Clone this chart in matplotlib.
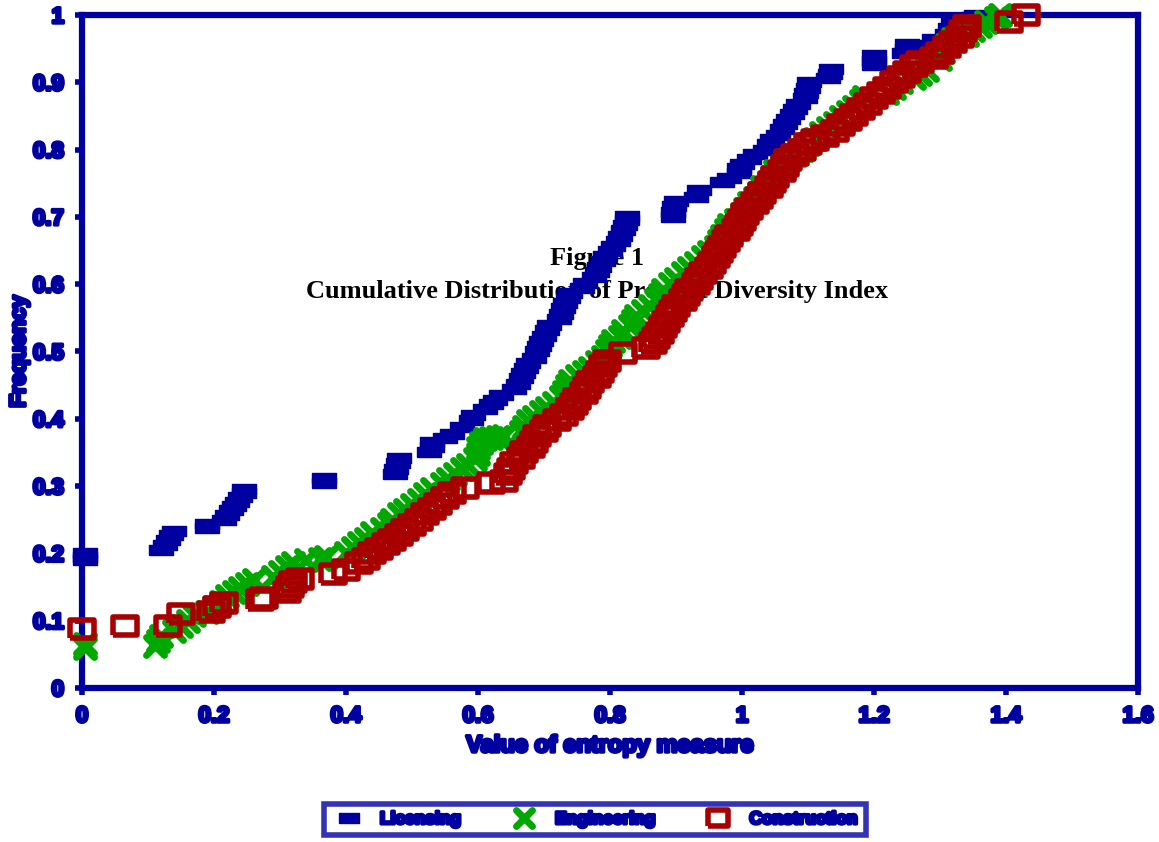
import matplotlib.pyplot as plt
import matplotlib.patheffects as pe
from matplotlib import font_manager
from matplotlib.markers import MarkerStyle
from matplotlib.ticker import FuncFormatter, MultipleLocator

# Licensing
lic_x = [0.005, 0.005, 0.005,
         0.12, 0.125, 0.13, 0.135, 0.14,
         0.19, 0.19,
         0.215, 0.22, 0.225, 0.23, 0.235, 0.24, 0.245, 0.245,
         0.366, 0.366,
         0.474, 0.476, 0.478, 0.48,
         0.525, 0.53, 0.53,
         0.55, 0.56, 0.575,
         0.59, 0.592,
         0.61, 0.62, 0.625, 0.635,
         0.655, 0.66, 0.665, 0.668, 0.672, 0.675,
         0.685, 0.69, 0.692, 0.695, 0.7, 0.705, 0.708,
         0.722, 0.725, 0.728, 0.732, 0.736, 0.74,
         0.758, 0.762,
         0.775, 0.78, 0.783, 0.79, 0.793,
         0.8, 0.805, 0.812, 0.815, 0.82, 0.822, 0.825, 0.826,
         0.895, 0.895, 0.897, 0.9,
         0.93, 0.935,
         0.97, 0.98, 0.995, 0.995, 1.0,
         1.01, 1.02,
         1.035, 1.04, 1.045,
         1.055, 1.06, 1.065, 1.07, 1.075, 1.08, 1.085,
         1.095, 1.097, 1.1, 1.102,
         1.13, 1.133, 1.135,
         1.2, 1.2, 1.2,
         1.245, 1.25, 1.25,
         1.285, 1.29,
         1.31, 1.315, 1.32,
         1.35, 1.355]
lic_y = [0.19, 0.195, 0.2,
         0.205, 0.212, 0.22, 0.227, 0.233,
         0.237, 0.244,
         0.25, 0.257, 0.264, 0.27, 0.277, 0.284, 0.29, 0.296,
         0.304, 0.312,
         0.318, 0.326, 0.334, 0.342,
         0.35, 0.358, 0.365,
         0.372, 0.378, 0.388,
         0.398, 0.405,
         0.415, 0.422, 0.428, 0.435,
         0.445, 0.452, 0.46, 0.468, 0.475, 0.483,
         0.49, 0.5, 0.508, 0.515, 0.523, 0.532, 0.54,
         0.548, 0.556, 0.564, 0.572, 0.58, 0.587,
         0.595, 0.602,
         0.61, 0.618, 0.626, 0.634, 0.642,
         0.65, 0.657, 0.664, 0.672, 0.68, 0.688, 0.695, 0.702,
         0.7, 0.708, 0.716, 0.724,
         0.73, 0.74,
         0.752, 0.758, 0.765, 0.772, 0.779,
         0.786, 0.793,
         0.8, 0.808, 0.815,
         0.822, 0.83, 0.838, 0.846, 0.853, 0.86, 0.868,
         0.876, 0.884, 0.892, 0.9,
         0.906, 0.913, 0.92,
         0.925, 0.932, 0.94,
         0.944, 0.95, 0.957,
         0.955, 0.965,
         0.972, 0.98, 0.988,
         0.997, 1.0]

# Engineering
eng_x = [0.005, 0.005,
         0.11, 0.115, 0.12,
         0.14, 0.15, 0.16, 0.17,
         0.19, 0.2, 0.21, 0.22,
         0.23, 0.24, 0.25, 0.26,
         0.29, 0.3, 0.31, 0.32, 0.34, 0.36, 0.37,
         0.4, 0.41, 0.42, 0.43, 0.44, 0.455, 0.465,
         0.47, 0.48, 0.49, 0.5, 0.51, 0.52, 0.53,
         0.545, 0.555, 0.565, 0.575, 0.585, 0.595,
         0.6, 0.6, 0.605, 0.61, 0.62, 0.63, 0.64,
         0.665, 0.67, 0.675, 0.685, 0.695, 0.705, 0.715,
         0.725, 0.73, 0.735, 0.74, 0.75, 0.76, 0.77,
         0.78, 0.79, 0.795, 0.8, 0.805,
         0.815, 0.82, 0.83, 0.835, 0.84,
         0.85, 0.86, 0.87, 0.875, 0.88,
         0.89, 0.9, 0.91, 0.92, 0.93,
         0.94, 0.95, 0.96, 0.965, 0.97,
         0.975, 0.98, 0.99, 1.0, 1.005, 1.01,
         1.02, 1.025, 1.03, 1.04, 1.045,
         1.05, 1.06, 1.07, 1.08, 1.09,
         1.1, 1.11, 1.12, 1.13, 1.14,
         1.15, 1.16, 1.17, 1.18, 1.185,
         1.22, 1.23, 1.24, 1.26, 1.27, 1.28,
         1.3, 1.305, 1.31, 1.32,
         1.34, 1.35, 1.36, 1.37,
         1.385, 1.39]
eng_y = [0.06, 0.066,
         0.062, 0.07, 0.077,
         0.085, 0.092, 0.1, 0.108,
         0.113, 0.12, 0.128, 0.136,
         0.142, 0.148, 0.155, 0.16,
         0.165, 0.172, 0.18, 0.185, 0.19, 0.192, 0.195,
         0.2, 0.208, 0.215, 0.222, 0.23, 0.236, 0.243,
         0.25, 0.258, 0.265, 0.272, 0.28, 0.288, 0.296,
         0.303, 0.31, 0.318, 0.325, 0.332, 0.34,
         0.348, 0.356, 0.364, 0.37, 0.372, 0.373, 0.374,
         0.38, 0.388, 0.396, 0.403, 0.41, 0.416, 0.424,
         0.432, 0.44, 0.448, 0.456, 0.464, 0.47, 0.476,
         0.484, 0.492, 0.5, 0.508, 0.515,
         0.522, 0.53, 0.538, 0.546, 0.552,
         0.56, 0.568, 0.576, 0.584, 0.592,
         0.6, 0.608, 0.616, 0.624, 0.632,
         0.64, 0.648, 0.656, 0.664, 0.672,
         0.68, 0.688, 0.696, 0.704, 0.712, 0.72,
         0.728, 0.736, 0.744, 0.752, 0.76,
         0.768, 0.776, 0.784, 0.792, 0.8,
         0.808, 0.816, 0.824, 0.832, 0.84,
         0.848, 0.856, 0.864, 0.872, 0.878,
         0.884, 0.892, 0.9, 0.906, 0.912, 0.918,
         0.935, 0.945, 0.955, 0.965,
         0.97, 0.977, 0.984, 0.99,
         0.995, 1.0]

# Construction
con_x = [0.0, 0.065, 0.13, 0.15,
         0.195, 0.205, 0.215,
         0.27, 0.275,
         0.31, 0.315, 0.32, 0.33,
         0.38, 0.4, 0.42, 0.43, 0.44, 0.45, 0.46, 0.47, 0.48, 0.49,
         0.5, 0.51, 0.52, 0.53, 0.54, 0.55, 0.56, 0.58,
         0.62, 0.64, 0.645, 0.65, 0.655, 0.665, 0.67, 0.68, 0.685, 0.69,
         0.7, 0.705, 0.72, 0.73, 0.74, 0.745, 0.75, 0.76, 0.765, 0.77,
         0.78, 0.785, 0.79, 0.795,
         0.82, 0.855, 0.865, 0.87, 0.875, 0.88, 0.885, 0.89, 0.895, 0.9,
         0.91, 0.915, 0.92, 0.93, 0.935, 0.94, 0.95, 0.955, 0.96, 0.965,
         0.97, 0.975, 0.98, 0.99, 0.995, 1.0, 1.005, 1.01, 1.02, 1.025,
         1.03, 1.04, 1.045, 1.05, 1.06, 1.065, 1.07, 1.08, 1.09, 1.1,
         1.11, 1.125, 1.14, 1.15, 1.16, 1.17, 1.18, 1.19, 1.2, 1.21,
         1.22, 1.23, 1.24, 1.25, 1.26, 1.27, 1.29, 1.3, 1.31, 1.32,
         1.33, 1.335, 1.34, 1.405, 1.43]
con_y = [0.087, 0.092, 0.092, 0.11,
         0.113, 0.12, 0.127,
         0.131, 0.134,
         0.142, 0.15, 0.157, 0.162,
         0.17, 0.176, 0.185, 0.192, 0.2, 0.207, 0.214, 0.22, 0.228, 0.235,
         0.242, 0.25, 0.258, 0.266, 0.274, 0.282, 0.29, 0.297,
         0.305, 0.308, 0.318, 0.326, 0.334, 0.342, 0.35, 0.358, 0.366, 0.374,
         0.382, 0.39, 0.398, 0.406, 0.414, 0.422, 0.43, 0.438, 0.446, 0.454,
         0.462, 0.47, 0.478, 0.486,
         0.498, 0.505, 0.512, 0.52, 0.528, 0.536, 0.544, 0.552, 0.56, 0.568,
         0.576, 0.584, 0.592, 0.6, 0.608, 0.616, 0.624, 0.632, 0.64, 0.648,
         0.656, 0.664, 0.672, 0.68, 0.688, 0.696, 0.704, 0.712, 0.72, 0.728,
         0.736, 0.744, 0.752, 0.76, 0.768, 0.776, 0.784, 0.792, 0.8, 0.808,
         0.814, 0.82, 0.828, 0.836, 0.844, 0.852, 0.86, 0.868, 0.876, 0.884,
         0.892, 0.9, 0.908, 0.916, 0.924, 0.93, 0.936, 0.944, 0.952, 0.96,
         0.968, 0.976, 0.984, 0.99, 1.0]

BLUE = '#0000a0'
GREEN = '#00a800'
RED = '#a80000'

# narrow bold face for the blue texts if it is there
names = {f.name for f in font_manager.fontManager.ttflist}
SANS = 'Liberation Sans Narrow' if 'Liberation Sans Narrow' in names else 'Liberation Sans'

fat = [pe.withStroke(linewidth=2.5, foreground=BLUE)]

bar_marker = [(-1, -0.45), (1, -0.45), (1, 0.45), (-1, 0.45), (-1, -0.45)]
box_marker = [(-1, -0.75), (1, -0.75), (1, 0.75), (-1, 0.75), (-1, -0.75)]
x_marker = MarkerStyle('x', capstyle='round')

fig = plt.figure(figsize=(11.59, 8.42), dpi=100)
ax = fig.add_axes([0.0708, 0.1829, 0.9112, 0.7993])

ax.plot(lic_x, lic_y, linestyle='none', marker=bar_marker, markersize=17,
        color=BLUE, mec=BLUE, label='Licensing', clip_on=False, zorder=3)
ax.plot(eng_x, eng_y, linestyle='none', marker=x_marker, markersize=13,
        mew=5, color=GREEN, label='Engineering', clip_on=False, zorder=4)
ax.plot(con_x, con_y, linestyle='none', marker=box_marker, markersize=17,
        mew=4, mfc='none', mec=RED, label='Construction', clip_on=False, zorder=5)

ax.set_xlim(0, 1.6)
ax.set_ylim(0, 1)
ax.xaxis.set_major_locator(MultipleLocator(0.2))
ax.yaxis.set_major_locator(MultipleLocator(0.1))
fmt = FuncFormatter(lambda v, p: '%g' % round(v, 2))
ax.xaxis.set_major_formatter(fmt)
ax.yaxis.set_major_formatter(fmt)

for s in ax.spines.values():
    s.set_linewidth(4.5)
    s.set_color(BLUE)
ax.tick_params(direction='out', length=5, width=4, color=BLUE, labelcolor=BLUE,
               labelsize=16, pad=8)
for lab in ax.get_xticklabels() + ax.get_yticklabels():
    lab.set_fontweight('bold')
    lab.set_family(SANS)
    lab.set_path_effects(fat)

ax.set_xlabel('Value of entropy measure', fontsize=17, fontweight='bold', family=SANS,
              color=BLUE, labelpad=5, path_effects=fat)
ax.set_ylabel('Frequency', fontsize=16, fontweight='bold', family=SANS, color=BLUE,
              labelpad=2, path_effects=fat)

ax.text(0.4877, 0.613, 'Figure 1\nCumulative Distribution of Product Diversity Index',
        transform=ax.transAxes, ha='center', va='center', fontsize=19,
        fontweight='bold', family='Liberation Serif', linespacing=1.55, zorder=1)

leg = fig.legend(loc='center', bbox_to_anchor=(0.513, 0.027), ncol=3,
                 prop={'family': SANS, 'weight': 'bold', 'size': 12.5},
                 frameon=True, fancybox=False, columnspacing=2.6,
                 handletextpad=0.8, borderpad=0.45, markerscale=0.85)
leg.get_frame().set_edgecolor(BLUE)
leg.get_frame().set_linewidth(4)
for t in leg.get_texts():
    t.set_color(BLUE)
    t.set_path_effects(fat)

fig.savefig('out.png', dpi=100)
